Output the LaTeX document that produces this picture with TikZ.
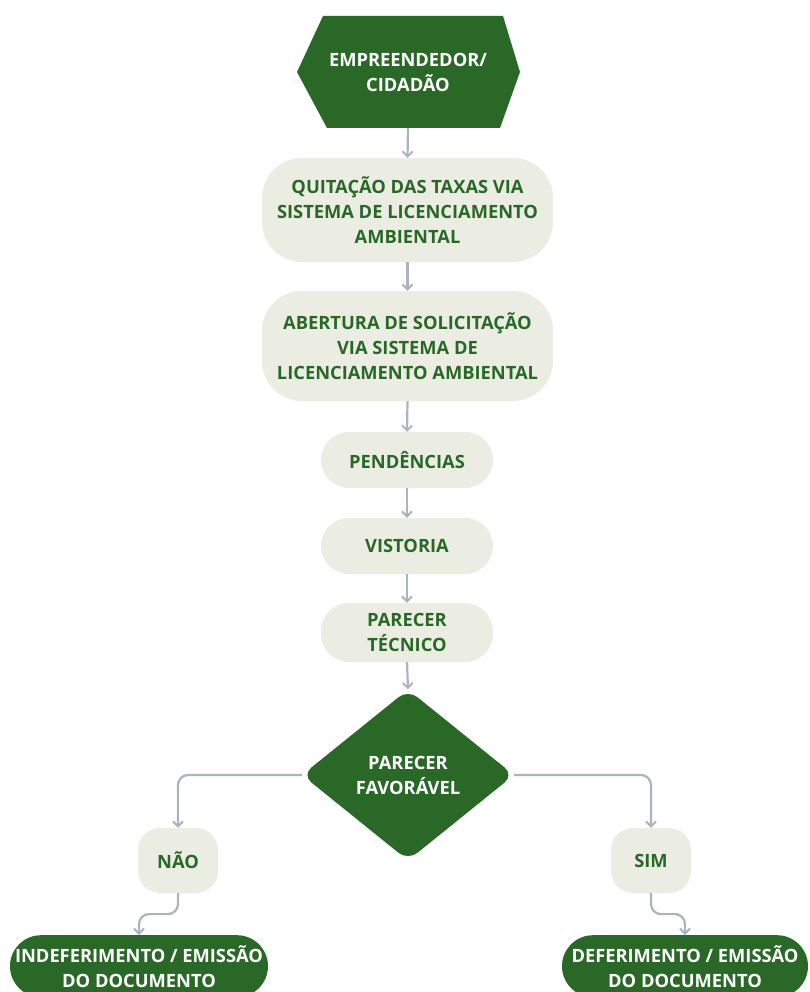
\documentclass[tikz,border=0pt]{standalone}
\usepackage{fontspec}
\setmainfont{Open Sans}
\usetikzlibrary{shapes.geometric,arrows.meta,calc}
\definecolor{darkgreen}{HTML}{2A6827}
\definecolor{paleleaf}{HTML}{EBEDE3}
\definecolor{linkgrey}{HTML}{A9B4BD}
\begin{document}
\begin{tikzpicture}[x=1pt,y=-1pt,
  font=\fontsize{18.3}{25}\selectfont\bfseries,
  pale/.style={fill=paleleaf,text=darkgreen,align=center,inner sep=0pt},
  dark/.style={fill=darkgreen,text=white,align=center,inner sep=0pt},
  link/.style={draw=linkgrey,line width=2.2pt,
    -{Straight Barb[length=5pt,width=10pt,line width=2pt]}},
  branch/.style={link,rounded corners=10pt}]
\useasboundingbox (0,0) rectangle (810,992);
\clip (0,0) rectangle (810,992);

% start: hexagon
\coordinate (hexc) at (408,72);
\fill[darkgreen] (297,72) -- (323,16) -- (503,16) -- (520,72)
  -- (500,128) -- (327,128) -- cycle;
\node (hex) [minimum width=223pt,minimum height=112pt,inner sep=0pt,
  text=white,align=center] at (hexc) {EMPREENDEDOR/\\CIDADÃO};

% process steps
\node (taxas) [pale,rounded corners=40pt,minimum width=291pt,minimum height=104pt]
  at (407.5,210) {QUITAÇÃO DAS TAXAS VIA\\SISTEMA DE LICENCIAMENTO\\AMBIENTAL};
\node (abert) [pale,rounded corners=40pt,minimum width=291pt,minimum height=110pt]
  at (407.5,346) {ABERTURA DE SOLICITAÇÃO\\VIA SISTEMA DE\\LICENCIAMENTO AMBIENTAL};
\node (pend) [pale,rounded corners=28pt,minimum width=172pt,minimum height=56pt]
  at (407,460) {PENDÊNCIAS};
\node (vist) [pale,rounded corners=28pt,minimum width=172pt,minimum height=56pt]
  at (407,546) {VISTORIA};
\node (tec) [pale,rounded corners=28pt,minimum width=172pt,minimum height=59pt]
  at (407,632.5) {PARECER\\TÉCNICO};

% decision
\node (dec) [dark,diamond,rounded corners=12pt,minimum width=212pt,
  minimum height=171pt,aspect=1.24] at (408,775) {PARECER\\FAVORÁVEL};

% answers
\node (nao) [pale,rounded corners=22pt,minimum width=80pt,minimum height=65pt]
  at (178,860.5) {NÃO};
\node (sim) [pale,rounded corners=22pt,minimum width=80pt,minimum height=65pt]
  at (651,860.5) {SIM};

% outcomes
\node (indef) [dark,rounded corners=31pt,minimum width=258pt,minimum height=62pt,
  anchor=north] at (139,935) {INDEFERIMENTO / EMISSÃO\\DO DOCUMENTO};
\node (def) [dark,rounded corners=31pt,minimum width=246pt,minimum height=62pt,
  anchor=north] at (685,935) {DEFERIMENTO / EMISSÃO\\DO DOCUMENTO};

% connectors
\draw[link] (hex.south) -- (taxas.north);
\draw[link] (taxas.south) -- (abert.north);
\draw[link] (abert.south) -- (pend.north);
\draw[link] (pend.south) -- (vist.north);
\draw[link] (vist.south) -- (tec.north);
\draw[link] (tec.south) -- (dec.north);
\draw[branch] (dec.west) -| (nao.north);
\draw[branch] (dec.east) -| (sim.north);
\draw[branch] (nao.south) |- ($(nao.south)!0.5!(indef.north)$) -| (indef.north);
\draw[branch] (sim.south) |- ($(sim.south)!0.5!(def.north)$) -| (def.north);
\end{tikzpicture}
\end{document}
